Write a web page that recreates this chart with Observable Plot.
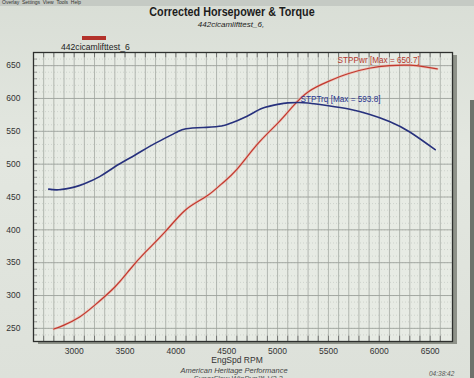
<!DOCTYPE html>
<html>
<head>
<meta charset="utf-8">
<script src="https://cdn.jsdelivr.net/npm/d3@7"></script>
<script src="https://cdn.jsdelivr.net/npm/@observablehq/plot@0.6"></script>
<style>
  html, body { margin: 0; padding: 0; }
  body { width: 474px; height: 378px; overflow: hidden; position: relative;
         background: linear-gradient(180deg, #d9ded6 0%, #e3e7e0 40%, #dde1da 100%);
         font-family: "Liberation Sans", Arial, sans-serif; }
  .abs { position: absolute; white-space: nowrap; }
  #menubar { left: 0; top: 0; width: 474px; height: 6px; background: #c5cac4; }
  #menu { left: 2px; top: -1px; font-size: 5px; color: #333; }
  #title { left: 0; width: 464px; top: 6px; text-align: center; font-weight: bold; font-size: 12.5px; color: #1c1c1c; transform: scaleX(0.86); transform-origin: 232px 0; line-height: 13px; }
  #subtitle { left: 0; width: 462px; top: 20px; text-align: center; font-style: italic; font-size: 8px; color: #222; line-height: 9px; }
  #legsw { left: 82px; top: 36px; width: 24px; height: 4px; background: #b3322b; }
  #leglab { left: 61px; top: 42px; font-size: 8.6px; color: #222; line-height: 10px; }
  #xlab { left: 0; width: 474px; top: 356px; text-align: center; font-size: 8.5px; color: #333; line-height: 9px; }
  #cap { left: 0; width: 468px; top: 367px; text-align: center; font-size: 7.5px; font-style: italic; color: #444; line-height: 8px; }
  #cap2 { left: 0; width: 476px; top: 375px; text-align: center; font-size: 7.5px; font-style: italic; color: #555; line-height: 8px; }
  #time { left: 429px; top: 370px; font-size: 6.5px; font-style: italic; color: #555; line-height: 8px; }
  #edge { left: 470px; top: 100px; width: 4px; height: 278px; background: #6e726c; }
  #plot { left: 0; top: 0; }
</style>
</head>
<body>
<div id="plot" class="abs"></div>
<div id="menubar" class="abs"></div>
<div id="menu" class="abs">Overlay&nbsp;&nbsp;Settings&nbsp;&nbsp;View&nbsp;&nbsp;Tools&nbsp;&nbsp;Help</div>
<div id="title" class="abs">Corrected Horsepower &amp; Torque</div>
<div id="subtitle" class="abs">442cicamlifttest_6,</div>
<div id="legsw" class="abs"></div>
<div id="leglab" class="abs">442cicamlifttest_6</div>
<div id="xlab" class="abs">EngSpd RPM</div>
<div id="cap" class="abs">American Heritage Performance</div>
<div id="cap2" class="abs">SuperFlow WinDyn™ V3.2</div>
<div id="time" class="abs">04:38:42</div>
<div id="edge" class="abs"></div>
<script>
// ---- data ----
const trqRpm = [2750, 2850, 3000, 3100, 3250, 3400, 3600, 3800, 4000, 4100, 4300, 4450, 4550, 4700, 4850, 5000, 5100, 5200, 5300, 5500, 5700, 5900, 6100, 6300, 6550];
const trqVal = [462, 461, 465, 470, 481, 496, 514, 532, 548, 554, 556, 558, 563, 573, 585, 591, 593.3, 593.8, 593, 589, 584, 576, 565, 549, 522];
const pwrRpm = [2800, 2900, 3050, 3200, 3400, 3550, 3700, 3900, 4100, 4300, 4450, 4600, 4800, 5000, 5150, 5300, 5500, 5700, 5900, 6100, 6300, 6450, 6570];
const pwrVal = [249, 255, 267, 285, 313, 340, 366, 398, 431, 451, 470, 492, 530, 562, 588, 610, 626, 638, 646, 650, 650.7, 648, 645];
const xTicks = [3000, 3500, 4000, 4500, 5000, 5500, 6000, 6500];
const yTicks = [250, 300, 350, 400, 450, 500, 550, 600, 650];
const pwrLabel = "STPPwr [Max = 650.7]";
const trqLabel = "STPTrq [Max = 593.8]";

const trq = trqRpm.map((r, i) => ({rpm: r, v: trqVal[i]}));
const pwr = pwrRpm.map((r, i) => ({rpm: r, v: pwrVal[i]}));
const minorX = d3.range(2700, 6700, 100);
const minorY = d3.range(240, 670, 10);

const chart = Plot.plot({
  width: 474, height: 378,
  marginLeft: 33, marginRight: 22, marginTop: 52, marginBottom: 37,
  style: {background: "transparent", fontFamily: "Liberation Sans, Arial, sans-serif"},
  x: {domain: [2600, 6720], label: null},
  y: {domain: [230, 670], label: null},
  marks: [
    // drop shadow of the plot panel
    Plot.rect([0], {x1: 2600, x2: 6720, y1: 230, y2: 670, dx: 5, dy: 3, fill: "#8e9289"}),
    Plot.frame({fill: "#e7ebe4"}),
    Plot.ruleY(minorY, {stroke: "#b5bab4", strokeWidth: 0.5, strokeDasharray: "1,2"}),
    Plot.ruleX(minorX, {stroke: "#a3a8a2", strokeWidth: 0.8}),
    Plot.ruleY(yTicks, {stroke: "#9ea39d", strokeWidth: 0.9}),
    Plot.ruleX(minorX, {y1: 670, y2: 662, stroke: "#555", strokeWidth: 0.7}),
    Plot.ruleX(minorX, {y1: 230, y2: 238, stroke: "#555", strokeWidth: 0.7}),
    Plot.ruleY(minorY, {x1: 2600, x2: 2640, stroke: "#666", strokeWidth: 0.6}),
    Plot.axisX({ticks: xTicks, tickSize: 0, tickPadding: 6, fontSize: 8.5, fill: "#333", tickFormat: d => String(d)}),
    Plot.axisY({ticks: yTicks, tickSize: 0, tickPadding: 13, fontSize: 8.5, fill: "#333"}),
    Plot.line(pwr, {x: "rpm", y: "v", stroke: "#f0a79c", strokeWidth: 2.6, curve: "natural", strokeOpacity: 0.6}),
    Plot.line(pwr, {x: "rpm", y: "v", stroke: "#c0392e", strokeWidth: 1.2, curve: "natural"}),
    Plot.line(trq, {x: "rpm", y: "v", stroke: "#27317d", strokeWidth: 1.6, curve: "natural"}),
    Plot.text([pwrLabel], {x: 5590, y: 658, text: d => d, textAnchor: "start", fill: "#b5392f", fontSize: 8.2}),
    Plot.text([trqLabel], {x: 5225, y: 598, text: d => d, textAnchor: "start", fill: "#2a3590", fontSize: 8.2}),
    Plot.frame({stroke: "#2d2f2d", strokeWidth: 1.3})
  ]
});
document.getElementById("plot").appendChild(chart);
</script>
</body>
</html>
